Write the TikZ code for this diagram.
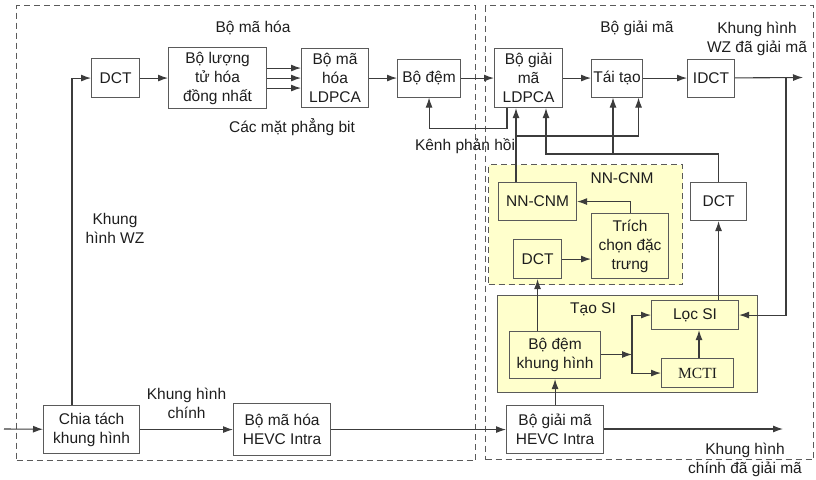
\documentclass[tikz,border=0pt]{standalone}
\usepackage{fontspec}
\setmainfont{Liberation Sans}
\newfontfamily\mctifont{Liberation Serif}
\usetikzlibrary{arrows.meta}
\definecolor{linegray}{HTML}{3C3C3C}
\definecolor{boxgray}{HTML}{5A5A5A}
\definecolor{siyellow}{HTML}{FFFFCC}
\definecolor{txtgray}{HTML}{1E1E1E}

\begin{document}
\begin{tikzpicture}[x=1pt, y=1pt, >={Latex[length=10pt,width=7pt]},
	every node/.style={font=\fontsize{15.5}{19}\selectfont, text=txtgray},
	blk/.style={draw=boxgray, line width=1.1pt, fill=white, rectangle, anchor=north west, align=center, inner sep=0pt},
	grp/.style={draw=boxgray, line width=1.1pt, rectangle, anchor=north west, inner sep=0pt},
	outer/.style={grp, dash pattern=on 6pt off 4pt},
	txt/.style={align=center, inner sep=0pt},
	conn/.style={draw=linegray, line width=1.1pt}]
		\useasboundingbox (0, 0) rectangle (816, -479);
		% outer boxes
		\node[outer, minimum width=459pt, minimum height=455pt] (enc) at (16, -5) {};
		\node[outer, minimum width=328pt, minimum height=454pt] (dec) at (485, -5) {};
		\node[grp, dash pattern=on 6pt off 4pt, fill=siyellow, minimum width=194pt, minimum height=120pt] (nn) at (488, -164) {};
		\node[grp, fill=siyellow, minimum width=260pt, minimum height=97pt] (si) at (497, -295) {};
		\node[txt] at (253, -28) {Bộ mã hóa};
		\node[txt] at (637, -28) {Bộ giải mã};
		\node[txt] at (622, -178) {NN-CNM};
		\node[txt] at (593, -309) {Tạo SI};
		% encoder
		\node[blk, minimum width=48pt, minimum height=39pt] (enc_dct) at (91, -58) {DCT};
		\node[blk, minimum width=98pt, minimum height=61pt] (enc_quant) at (168, -47) {Bộ lượng\\tử hóa\\đồng nhất};
		\node[blk, minimum width=67pt, minimum height=59pt] (enc_ldpca) at (301, -48) {Bộ mã\\hóa\\LDPCA};
		\node[blk, minimum width=63pt, minimum height=38pt] (enc_buf) at (397, -58.5) {Bộ đệm};
		\node[blk, minimum width=96pt, minimum height=48pt] (enc_split) at (43, -405) {Chia tách\\khung hình};
		\node[blk, minimum width=97pt, minimum height=52pt] (enc_hevc) at (233, -403) {Bộ mã hóa\\HEVC Intra};
		% decoder
		\node[blk, minimum width=68pt, minimum height=59pt] (dec_ldpca) at (494, -48) {Bộ giải\\mã\\LDPCA};
		\node[blk, minimum width=51pt, minimum height=38pt] (dec_rec) at (591, -58.5) {Tái tạo};
		\node[blk, minimum width=47pt, minimum height=38pt] (dec_idct) at (687, -58.5) {IDCT};
		\node[blk, minimum width=56pt, minimum height=38pt] (dec_dct) at (690, -182) {DCT};
		\node[blk, fill=siyellow, minimum width=78pt, minimum height=38pt] (nn_cnm) at (498, -182) {NN-CNM};
		\node[blk, fill=siyellow, minimum width=77pt, minimum height=65pt] (nn_feat) at (591, -213) {Trích\\chọn đặc\\trưng};
		\node[blk, fill=siyellow, minimum width=48pt, minimum height=39pt] (nn_dct) at (513, -239) {DCT};
		\node[blk, fill=siyellow, minimum width=87pt, minimum height=29pt] (si_filter) at (651, -300) {Lọc SI};
		\node[blk, fill=siyellow, minimum width=91pt, minimum height=47pt] (si_buf) at (509, -331) {Bộ đệm\\khung hình};
		\node[blk, fill=siyellow, minimum width=72pt, minimum height=29pt] (si_mcti) at (661, -358) {\mctifont MCTI};
		\node[blk, minimum width=97pt, minimum height=48pt] (dec_hevc) at (506, -405) {Bộ giải mã\\HEVC Intra};
		% free ends
		\coordinate (frame_in) at (4, -429);
		\coordinate (wz_out) at (803, -77.5);
		\coordinate (wz_tap) at (786, -77.5);
		\coordinate (key_out) at (783, -429);
		\coordinate (nn_up) at (516, -136);
		\coordinate (bus_l) at (546, -154);
		\coordinate (bus_m) at (613, -154);
		\coordinate (si_split) at (632, -354.5);
		% connectors
		\draw[conn, ->] (frame_in) -- (enc_split);
		\draw[conn, ->] ([xshift=29pt]enc_split.north west) |- (enc_dct);
		\draw[conn, ->] (enc_dct) -- (enc_quant);
		\foreach \dy in {-10, 0, 10}
			\draw[conn, ->] ([yshift=\dy pt]enc_quant.east) -- ([yshift=\dy pt]enc_ldpca.west);
		\draw[conn, ->] (enc_ldpca) -- (enc_buf);
		\draw[conn, ->] (enc_buf) -- (dec_ldpca);
		\draw[conn, ->] ([xshift=13pt]dec_ldpca.south west) -- ++(0, -20) -| (enc_buf.south);
		\draw[conn, ->] (dec_ldpca) -- (dec_rec);
		\draw[conn, ->] (dec_rec) -- (dec_idct);
		\draw[conn, ->] (dec_idct) -- (wz_out);
		\draw[conn, ->] (wz_tap) |- (si_filter.east);
		\draw[conn, ->] (nn_cnm.north -| nn_up) -- (nn_up |- dec_ldpca.south);
		\draw[conn, ->] (nn_up) -| ([xshift=21.5pt]dec_rec.south);
		\draw[conn, ->] (dec_dct.north) |- (bus_l) -- (bus_l |- dec_ldpca.south);
		\draw[conn, ->] (bus_m) -- (bus_m |- dec_rec.south);
		\draw[conn, ->] (nn_feat.north) |- (nn_cnm.east);
		\draw[conn, ->] (nn_dct) -- (nn_dct -| nn_feat.west);
		\draw[conn, ->] (si_buf.north -| nn_dct) -- (nn_dct.south);
		\draw[conn, ->] (si_filter.north -| dec_dct) -- (dec_dct.south);
		\draw[conn, ->] (si_buf.east |- si_split) -- (si_split);
		\draw[conn, ->] (si_split) |- (si_filter.west);
		\draw[conn, ->] (si_split) |- (si_mcti.west);
		\draw[conn, ->] (si_mcti.north -| 699, 0) -- (si_filter.south -| 699, 0);
		\draw[conn, ->] (dec_hevc) -- (si_buf);
		\draw[conn, ->] (enc_split) -- node[txt, above=10pt] {Khung hình\\chính} (enc_hevc);
		\draw[conn, ->] (enc_hevc) -- (dec_hevc);
		\draw[conn, ->] (dec_hevc.east |- key_out) -- (key_out);
		% text labels
		\node[txt] at (115, -228) {Khung\\hình WZ};
		\node[txt] at (292, -127) {Các mặt phẳng bit};
		\node[txt] at (465, -146) {Kênh phản hồi};
		\node[txt] at (757, -39) {Khung hình\\WZ đã giải mã};
		\node[txt] at (745, -460) {Khung hình\\chính đã giải mã};
	\end{tikzpicture}
\end{document}
